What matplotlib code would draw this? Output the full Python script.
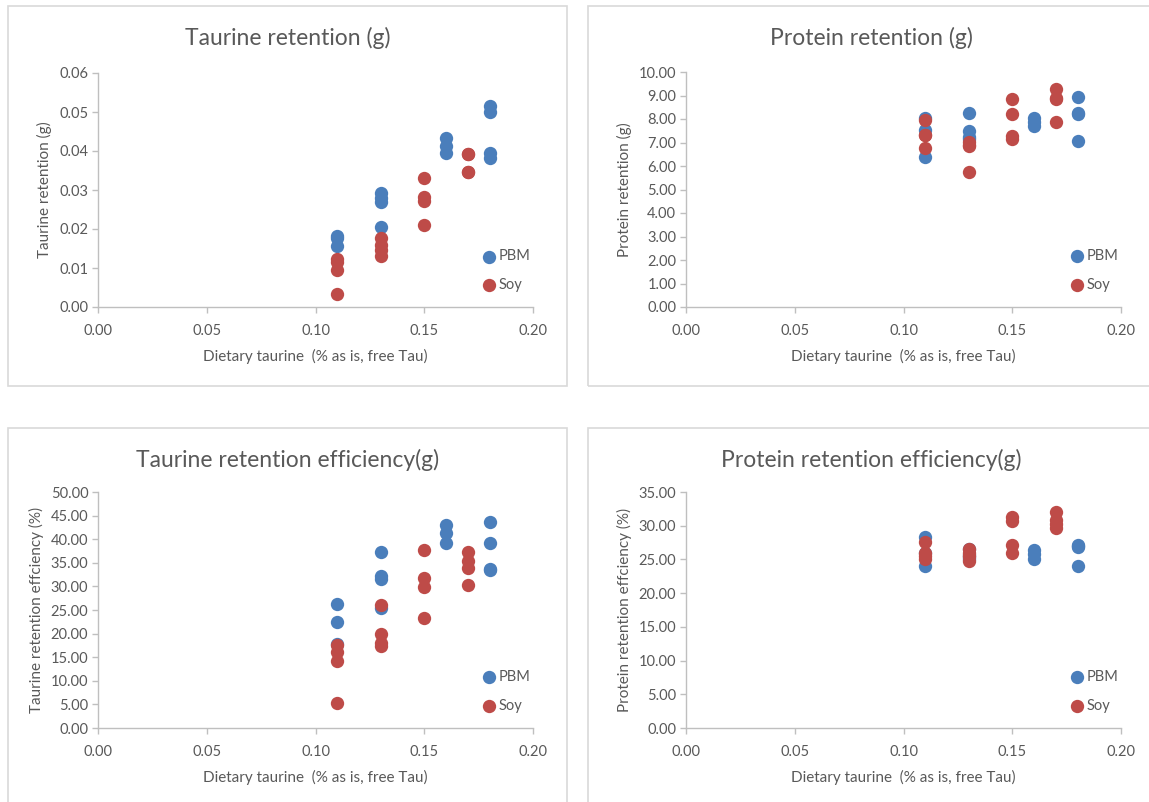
import matplotlib

matplotlib.use("Agg")
from matplotlib import pyplot as plt
from matplotlib.patches import Rectangle
from matplotlib.ticker import FormatStrFormatter

plt.rcParams["font.family"] = ["Lato", "DejaVu Sans"]

# dietary taurine levels (% as is, free Tau), one entry per tank
pbm_x = [0.11, 0.11, 0.11, 0.13, 0.13, 0.13, 0.13, 0.16, 0.16, 0.16, 0.18, 0.18, 0.18, 0.18]
soy_x = [0.11, 0.11, 0.11, 0.11, 0.13, 0.13, 0.13, 0.13, 0.15, 0.15, 0.15, 0.15, 0.17, 0.17, 0.17, 0.17]

# taurine retention (g)
tau_ret_pbm = [0.0182, 0.0178, 0.0156, 0.0292, 0.0279, 0.0270, 0.0206, 0.0434, 0.0413, 0.0394, 0.0515, 0.0501, 0.0396, 0.0381]
tau_ret_soy = [0.0122, 0.0115, 0.0094, 0.0033, 0.0178, 0.0158, 0.0146, 0.0131, 0.0331, 0.0283, 0.0272, 0.0210, 0.0392, 0.0392, 0.0347, 0.0347]

# protein retention (g)
prot_ret_pbm = [8.03, 7.55, 6.38, 8.27, 7.50, 7.25, 7.14, 8.06, 7.89, 7.72, 8.92, 8.25, 8.21, 7.08]
prot_ret_soy = [7.95, 7.32, 6.78, 7.30, 7.01, 6.90, 6.85, 5.75, 8.87, 8.23, 7.27, 7.13, 9.28, 8.87, 8.90, 7.89]

# taurine retention efficiency (%)
tau_eff_pbm = [26.3, 22.5, 17.9, 37.2, 32.3, 31.6, 25.4, 43.0, 41.3, 39.1, 43.6, 39.3, 33.6, 33.4]
tau_eff_soy = [17.6, 16.2, 14.1, 5.2, 26.1, 19.9, 18.1, 17.3, 37.7, 31.7, 29.8, 23.4, 37.3, 35.3, 34.0, 30.3]

# protein retention efficiency (%)
prot_eff_pbm = [28.3, 25.9, 24.0, 26.6, 25.7, 25.0, 25.3, 26.4, 25.8, 25.1, 27.2, 26.9, 27.0, 24.0]
prot_eff_soy = [27.6, 26.0, 25.5, 25.0, 26.5, 25.9, 25.5, 24.8, 31.3, 30.7, 27.2, 26.0, 32.1, 30.8, 30.3, 29.7]

titles = [
    "Taurine retention (g)",
    "Protein retention (g)",
    "Taurine retention efficiency(g)",
    "Protein retention efficiency(g)",
]
ylabels = [
    "Taurine retention (g)",
    "Protein retention (g)",
    "Taurine retention effciency (%)",
    "Protein retention effciency (%)",
]
xlabel = "Dietary taurine  (% as is, free Tau)"
series_names = ["PBM", "Soy"]

TEXT = "#595959"
GRID = "#bfbfbf"
FRAME = "#d9d9d9"
BLUE = "#4a7ebb"
RED = "#be4b48"

W, H = 1149, 802
fig = plt.figure(figsize=(W / 100, H / 100), dpi=100)


def px_rect(x0, y0, x1, y1):
    # pixel box (top-left origin) -> figure fraction rect
    return [x0 / W, 1 - y1 / H, (x1 - x0) / W, (y1 - y0) / H]


# chart-area frames
frames = [(8, 6, 567, 386), (588, 6, 1155, 386), (8, 428, 567, 810), (588, 428, 1155, 810)]
for x0, y0, x1, y1 in frames:
    fig.patches.append(
        Rectangle((x0 / W, 1 - y1 / H), (x1 - x0) / W, (y1 - y0) / H,
                  transform=fig.transFigure, fill=False, edgecolor=FRAME, lw=1.2)
    )

plot_areas = [(98, 73, 533, 307), (686, 72, 1121, 307), (98, 492, 533, 728), (686, 492, 1121, 728)]
ylims = [(0, 0.06, 0.01, "%.2f"), (0, 10, 1, "%.2f"), (0, 50, 5, "%.2f"), (0, 35, 5, "%.2f")]
data = [
    (tau_ret_pbm, tau_ret_soy),
    (prot_ret_pbm, prot_ret_soy),
    (tau_eff_pbm, tau_eff_soy),
    (prot_eff_pbm, prot_eff_soy),
]

for i in range(4):
    ax = fig.add_axes(px_rect(*plot_areas[i]))
    pbm, soy = data[i]
    ax.scatter(pbm_x, pbm, s=92, color=BLUE, label=series_names[0], zorder=3, linewidths=0)
    ax.scatter(soy_x, soy, s=92, color=RED, label=series_names[1], zorder=4, linewidths=0)

    lo, hi, step, fmt = ylims[i]
    ax.set_xlim(0, 0.2)
    ax.set_ylim(lo, hi)
    ax.set_xticks([0.0, 0.05, 0.10, 0.15, 0.20])
    n = int(round((hi - lo) / step))
    ax.set_yticks([lo + k * step for k in range(n + 1)])
    ax.xaxis.set_major_formatter(FormatStrFormatter("%.2f"))
    ax.yaxis.set_major_formatter(FormatStrFormatter(fmt))

    for side in ["top", "right"]:
        ax.spines[side].set_visible(False)
    for side in ["left", "bottom"]:
        ax.spines[side].set_color(GRID)
        ax.spines[side].set_linewidth(1.0)
    ax.tick_params(colors=GRID, labelcolor=TEXT, labelsize=10.5, length=4, width=1, pad=3)
    ax.tick_params(axis="x", pad=8)

    ax.set_xlabel(xlabel, color=TEXT, fontsize=11, labelpad=8)
    ax.set_ylabel(ylabels[i], color=TEXT, fontsize=11, labelpad=5)

    # Excel centres the title on the whole chart area, not the plot area
    x0, y0, x1, y1 = frames[i]
    fig.text((x0 + x1) / 2 / W, 1 - (y0 + 32) / H, titles[i], color=TEXT,
             fontsize=16.5, ha="center", va="center")

    leg = ax.legend(loc="center left", bbox_to_anchor=(0.865, 0.155), frameon=False,
                    handletextpad=0.05, labelspacing=1.0, fontsize=10.5,
                    borderaxespad=0, handlelength=1.2)
    for t in leg.get_texts():
        t.set_color(TEXT)

fig.savefig("out.png", dpi=100)
